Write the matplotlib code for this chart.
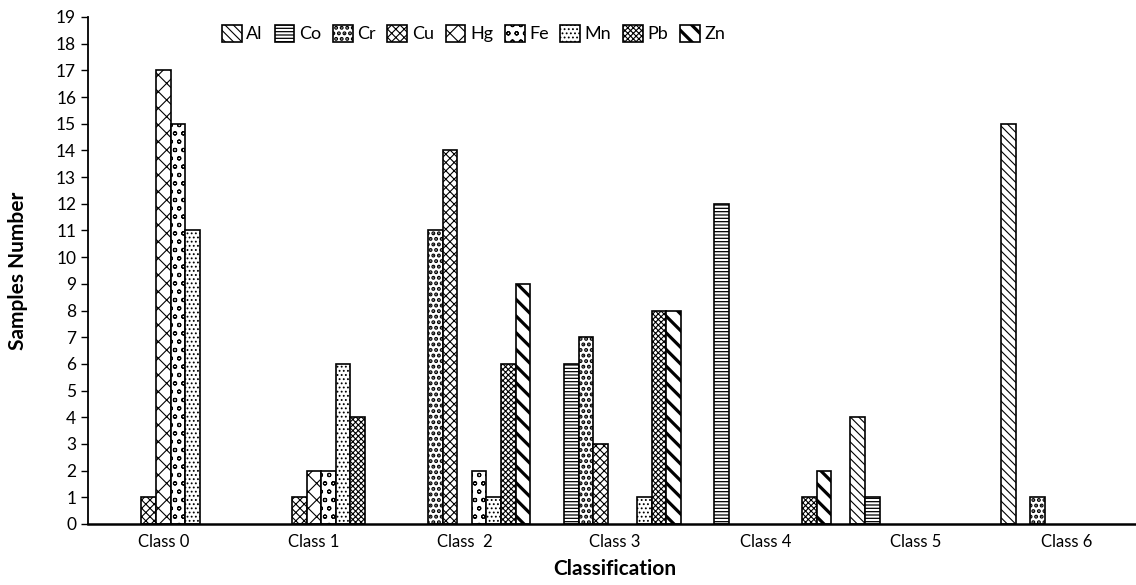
import numpy as np
import matplotlib
matplotlib.use("Agg")
import matplotlib.pyplot as plt

plt.rcParams["font.family"] = ["Lato", "DejaVu Sans"]
plt.rcParams["hatch.linewidth"] = 0.8

classes = ["Class 0", "Class 1", "Class  2", "Class 3", "Class 4", "Class 5", "Class 6"]
metals = ["Al", "Co", "Cr", "Cu", "Hg", "Fe", "Mn", "Pb", "Zn"]

al = [0, 0, 0, 0, 0, 4, 15]
co = [0, 0, 0, 6, 12, 1, 0]
cr = [0, 0, 11, 7, 0, 0, 1]
cu = [1, 1, 14, 3, 0, 0, 0]
hg = [17, 2, 0, 0, 0, 0, 0]
fe = [15, 2, 2, 0, 0, 0, 0]
mn = [11, 6, 1, 1, 0, 0, 0]
pb = [0, 4, 6, 8, 1, 0, 0]
zn = [0, 0, 9, 8, 2, 0, 0]

series = [al, co, cr, cu, hg, fe, mn, pb, zn]
hatches = ["\\\\\\\\", "-----", "...", "xxxx", "xx", "oo", "....", "xxxxxx", "\\\\"]
hatch_lw = [0.8, 0.9, 2.0, 0.8, 0.8, 0.8, 0.8, 0.8, 2.3]

fig = plt.figure(figsize=(11.36, 5.85), dpi=100)
ax = fig.add_axes([0.0775, 0.1043, 0.9278, 0.8667])

x = np.arange(len(classes))
w = 0.097
containers = []
for i, (name, vals) in enumerate(zip(metals, series)):
    bars = ax.bar(x + (i - 4) * w, vals, w, color="white", edgecolor="black",
                  linewidth=1.2, hatch=hatches[i], label=name)
    for b in bars:
        try:
            b.set_hatch_linewidth(hatch_lw[i])
        except AttributeError:
            pass
    containers.append(bars)

ax.set_xlim(-0.5, len(classes) - 0.5)
ax.set_ylim(0, 19)
ax.set_yticks(range(0, 20))
ax.set_xticks(x)
ax.set_xticklabels(classes, fontsize=12)
ax.tick_params(axis="y", labelsize=12.5, length=5, width=1)
ax.tick_params(axis="x", length=0, pad=7)
for s in ["top", "right"]:
    ax.spines[s].set_visible(False)
ax.spines["left"].set_linewidth(1.3)
ax.spines["bottom"].set_linewidth(1.8)

ax.set_xlabel("Classification", fontsize=15, fontweight="bold", labelpad=7)
ax.set_ylabel("Samples Number", fontsize=15, fontweight="bold", labelpad=20)

leg = ax.legend(ncol=9, loc="upper left", bbox_to_anchor=(0.127, 0.985), frameon=False,
                fontsize=13, handlelength=1.1, handleheight=1.1, handletextpad=0.25,
                columnspacing=0.65, borderpad=0, borderaxespad=0)
for h, lw in zip(leg.legend_handles, hatch_lw):
    try:
        h.set_hatch_linewidth(lw)
    except AttributeError:
        pass

# hide empty bars so their outlines don't thicken the baseline
for bars in containers:
    for b in bars:
        if b.get_height() == 0:
            b.set_visible(False)

fig.savefig("out.png", dpi=100)
